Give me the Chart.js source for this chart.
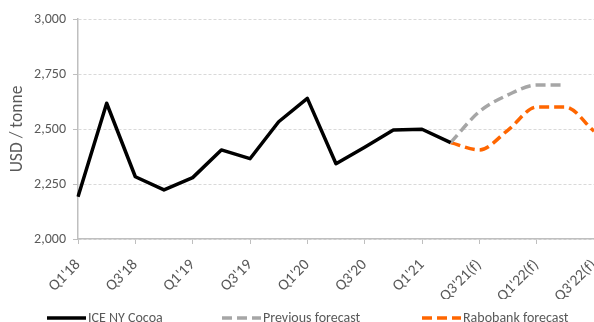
<!DOCTYPE html>
<html>
<head>
<meta charset="utf-8">
<script src="https://cdn.jsdelivr.net/npm/chart.js@4.4.1/dist/chart.umd.min.js"></script>
<style>
  html, body { margin: 0; padding: 0; background: #fff; }
  #wrap { width: 594px; height: 322px; position: relative; }
</style>
</head>
<body>
<div id="wrap"><canvas id="chart"></canvas></div>
<script>
// quarters on the x axis (every other one gets a label)
const quarters = [
  "Q1'18", "Q2'18", "Q3'18", "Q4'18",
  "Q1'19", "Q2'19", "Q3'19", "Q4'19",
  "Q1'20", "Q2'20", "Q3'20", "Q4'20",
  "Q1'21", "Q2'21", "Q3'21(f)", "Q4'21(f)",
  "Q1'22(f)", "Q2'22(f)", "Q3'22(f)"
];

// USD / tonne
const cocoa = [2192, 2617, 2283, 2223, 2279, 2405, 2365, 2533, 2639, 2342, 2417, 2495, 2499, 2438, null, null, null, null, null];
const prevForecast = [null, null, null, null, null, null, null, null, null, null, null, null, null, 2438, 2579, 2655, 2700, 2700, null];
const raboForecast = [null, null, null, null, null, null, null, null, null, null, null, null, null, 2438, 2405, 2495, 2600, 2600, 2490];

const yMin = 2000;
const yMax = 3000;
const yStep = 250;

const FONT = "Carlito, Lato, 'Liberation Sans', sans-serif";
const TXT = "#595959";

// legend drawn by hand so the spacing matches (left edge of each item)
const legendX = [47, 222, 422];

const bottomLegend = {
  id: "bottomLegend",
  afterDraw(chart) {
    const { ctx } = chart;
    const y = 318;
    ctx.save();
    ctx.font = "14px " + FONT;
    ctx.textBaseline = "middle";
    ctx.fillStyle = TXT;
    chart.data.datasets.forEach((ds, i) => {
      const x = legendX[i];
      ctx.beginPath();
      ctx.strokeStyle = ds.borderColor;
      ctx.lineWidth = ds.borderWidth;
      ctx.setLineDash(ds.borderDash || []);
      ctx.moveTo(x, y);
      ctx.lineTo(x + 39, y);
      ctx.stroke();
      ctx.setLineDash([]);
      ctx.fillText(ds.label, x + 41, y);
    });
    ctx.restore();
  },
};

new Chart(document.getElementById("chart").getContext("2d"), {
  type: "line",
  data: {
    labels: quarters,
    datasets: [
      {
        label: "ICE NY Cocoa",
        data: cocoa,
        borderColor: "#000000",
        borderWidth: 3.5,
        borderJoinStyle: "round",
        pointRadius: 0,
        tension: 0,
      },
      {
        label: "Previous forecast",
        data: prevForecast,
        borderColor: "#a6a6a6",
        borderWidth: 3.5,
        borderDash: [10, 5],
        pointRadius: 0,
        cubicInterpolationMode: "monotone",
      },
      {
        label: "Rabobank forecast",
        data: raboForecast,
        borderColor: "#ff6600",
        borderWidth: 3.5,
        borderDash: [10, 5],
        pointRadius: 0,
        cubicInterpolationMode: "monotone",
      },
    ],
  },
  options: {
    responsive: true,
    maintainAspectRatio: false,
    animation: false,
    layout: { padding: { top: 19, right: 0, bottom: 23, left: 0 } },
    plugins: {
      legend: { display: false },
      tooltip: { enabled: false },
    },
    scales: {
      x: {
        grid: {
          drawOnChartArea: false,
          drawTicks: true,
          tickLength: 5,
          tickColor: "#bfbfbf",
        },
        border: { color: "#bfbfbf", width: 1.5 },
        ticks: {
          autoSkip: false,
          maxRotation: 45,
          minRotation: 45,
          padding: 12,
          color: TXT,
          font: { family: FONT, size: 15.5 },
          callback: (v, i) => (i % 2 === 0 ? quarters[i] : null),
        },
        afterFit: (s) => {
          s.paddingLeft = 0;
          s.paddingRight = 0;
          s.height = 60;
        },
      },
      y: {
        min: yMin,
        max: yMax,
        grid: {
          color: "#d9d9d9",
          tickLength: 5,
          tickColor: "#bfbfbf",
          tickBorderDash: [1, 0],
        },
        border: { color: "#bfbfbf", width: 1.5, dash: [3, 2] },
        ticks: {
          stepSize: yStep,
          padding: 7,
          color: TXT,
          font: { family: FONT, size: 14 },
          callback: (v) => v.toLocaleString("en-US"),
        },
        title: {
          display: true,
          text: "USD / tonne",
          color: TXT,
          font: { family: FONT, size: 17.5 },
          padding: { top: 7, bottom: 0 },
        },
        afterFit: (s) => {
          s.width = 78;
          s.paddingTop = 0;
          s.paddingBottom = 0;
        },
      },
    },
  },
  plugins: [bottomLegend],
});
</script>
</body>
</html>
